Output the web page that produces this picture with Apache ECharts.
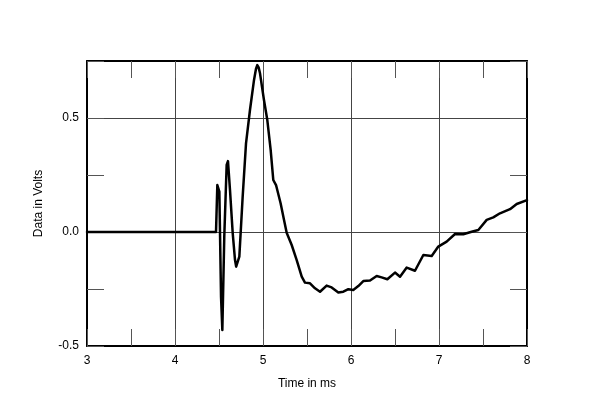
<!DOCTYPE html>
<html>
<head>
<meta charset="utf-8">
<script src="https://cdn.jsdelivr.net/npm/echarts@6/dist/echarts.min.js"></script>
<style>html,body{margin:0;padding:0;background:#fff;}#c{width:600px;height:411px;}</style>
</head>
<body>
<div id="c"></div>
<script>
var timeMs = [3, 4.466, 4.481, 4.504, 4.523, 4.538, 4.56, 4.587, 4.602, 4.625, 4.656, 4.682, 4.695, 4.705, 4.716, 4.731, 4.769, 4.807, 4.852, 4.898, 4.92, 4.935, 4.95, 4.966, 5.011, 5.049, 5.087, 5.117, 5.148, 5.2, 5.239, 5.269, 5.326, 5.383, 5.44, 5.477, 5.534, 5.591, 5.648, 5.723, 5.78, 5.856, 5.913, 5.97, 6.026, 6.083, 6.14, 6.216, 6.292, 6.348, 6.413, 6.5, 6.557, 6.633, 6.727, 6.822, 6.917, 6.992, 7.087, 7.182, 7.276, 7.371, 7.447, 7.542, 7.617, 7.693, 7.807, 7.883, 8.0];
var volts = [0, 0, 0.206, 0.177, -0.284, -0.43, -0.02, 0.294, 0.311, 0.184, -0.006, -0.123, -0.152, -0.159, -0.148, -0.108, 0.155, 0.389, 0.535, 0.667, 0.715, 0.732, 0.722, 0.696, 0.579, 0.491, 0.36, 0.228, 0.206, 0.126, 0.053, -0.003, -0.057, -0.123, -0.196, -0.222, -0.225, -0.247, -0.262, -0.235, -0.243, -0.265, -0.262, -0.251, -0.254, -0.237, -0.215, -0.213, -0.193, -0.199, -0.207, -0.178, -0.196, -0.156, -0.17, -0.101, -0.105, -0.064, -0.042, -0.009, -0.01, 0.001, 0.009, 0.053, 0.064, 0.082, 0.1, 0.123, 0.14];
var xTickLabels = [3, 4, 5, 6, 7, 8];
var yTickLabels = [-0.5, 0.0, 0.5];
var xTitle = 'Time in ms';
var yTitle = 'Data in Volts';

var pts = timeMs.map(function (t, i) { return [t, volts[i]]; });
var font = 'Liberation Sans, Arial, sans-serif';
var gridRect = { left: 87, top: 61, width: 440, height: 285 };
var frameLine = { show: true, onZero: false, lineStyle: { color: '#000', width: 2 } };
var tickStyle = { show: true, inside: true, length: 17, lineStyle: { color: '#555', width: 1 } };

var chart = echarts.init(document.getElementById('c'), null, { renderer: 'canvas' });
chart.setOption({
  backgroundColor: '#fff',
  animation: false,
  grid: [
    Object.assign({}, gridRect),
    Object.assign({}, gridRect)
  ],
  xAxis: [
    {
      gridIndex: 0, type: 'value', min: 3, max: 8, interval: 1, position: 'bottom',
      name: xTitle, nameLocation: 'middle', nameGap: 32,
      nameTextStyle: { color: '#000', fontSize: 12, fontFamily: font },
      axisLine: { show: false }, axisTick: { show: false },
      axisLabel: {
        color: '#000', fontSize: 12, fontFamily: font, margin: 9,
        formatter: function (v) { return xTickLabels.indexOf(v) >= 0 ? String(v) : ''; }
      },
      splitLine: { show: true, lineStyle: { color: '#444', width: 1 } }
    },
    {
      gridIndex: 1, type: 'value', min: 3, max: 8, interval: 0.5, position: 'bottom',
      axisLine: frameLine, axisTick: tickStyle, axisLabel: { show: false }, splitLine: { show: false }
    },
    {
      gridIndex: 1, type: 'value', min: 3, max: 8, interval: 0.5, position: 'top',
      axisLine: frameLine, axisTick: tickStyle, axisLabel: { show: false }, splitLine: { show: false }
    }
  ],
  yAxis: [
    {
      gridIndex: 0, type: 'value', min: -0.5, max: 0.75, interval: 0.5, position: 'left',
      name: yTitle, nameLocation: 'middle', nameGap: 42, nameRotate: 90,
      nameTextStyle: { color: '#000', fontSize: 12, fontFamily: font },
      axisLine: { show: false }, axisTick: { show: false },
      axisLabel: {
        color: '#000', fontSize: 12, fontFamily: font, margin: 8,
        formatter: function (v) {
          for (var i = 0; i < yTickLabels.length; i++) {
            if (Math.abs(yTickLabels[i] - v) < 1e-9) return yTickLabels[i].toFixed(1);
          }
          return '';
        }
      },
      splitLine: { show: true, lineStyle: { color: '#444', width: 1 } }
    },
    {
      gridIndex: 1, type: 'value', min: -0.5, max: 0.75, interval: 0.25, position: 'left',
      axisLine: frameLine, axisTick: tickStyle, axisLabel: { show: false }, splitLine: { show: false }
    },
    {
      gridIndex: 1, type: 'value', min: -0.5, max: 0.75, interval: 0.25, position: 'right',
      axisLine: frameLine, axisTick: tickStyle, axisLabel: { show: false }, splitLine: { show: false }
    }
  ],
  series: [
    {
      type: 'line', xAxisIndex: 0, yAxisIndex: 0, data: pts,
      showSymbol: false, smooth: false, clip: true,
      lineStyle: { color: '#000', width: 2.5, join: 'round', cap: 'round' }, z: 5
    }
  ]
});
</script>
</body>
</html>
